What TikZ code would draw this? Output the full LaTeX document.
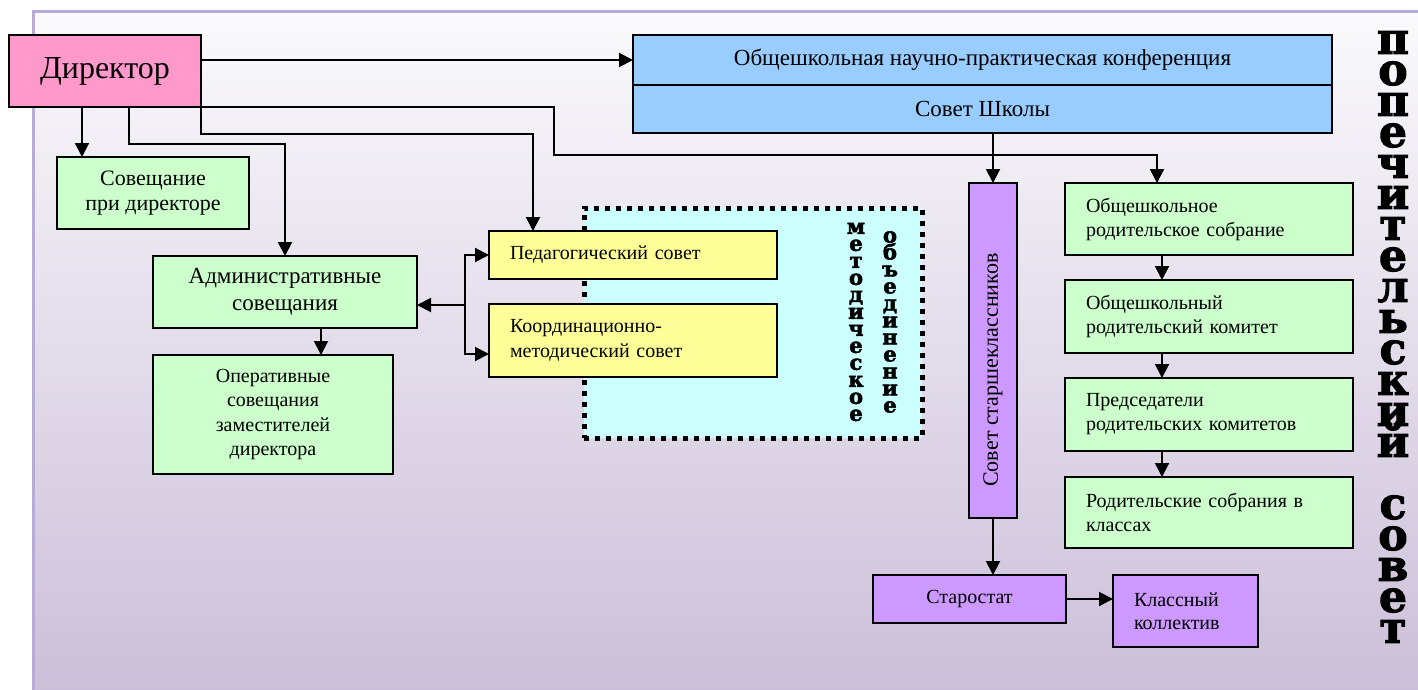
\documentclass[tikz,border=0pt]{standalone}
\usepackage{fontspec}
\usepackage{xcolor}
\usepackage{tikz}
\usetikzlibrary{arrows.meta}
\setmainfont{Liberation Serif}
\newfontfamily\heavyserif{DejaVu Serif}[BoldFeatures={FakeBold=2.5}]
\newcommand\tightlines{\lineskiplimit=-100pt\relax}

\definecolor{pinkbox}{HTML}{FF99CC}
\definecolor{greenbox}{HTML}{CCFFCC}
\definecolor{bluebox}{HTML}{99CCFF}
\definecolor{yellowbox}{HTML}{FFFF99}
\definecolor{cyanbox}{HTML}{CCFFFF}
\definecolor{violetbox}{HTML}{CC99FF}
\definecolor{paneltop}{HTML}{FAFAFC}
\definecolor{panelbottom}{HTML}{CCBFD9}
\definecolor{panelline}{HTML}{B8ABD5}

\tikzset{
  box/.style={draw, line width=2pt, inner sep=0pt, outer sep=0pt, anchor=north west, align=center},
  leftbox/.style={box, align=left, inner xsep=21pt},
  arr/.style={line width=2pt, -{Triangle[length=14pt,width=14pt]}},
  letters/.style={inner sep=0pt, align=center}
}

\begin{document}
\begin{tikzpicture}[x=1pt, y=-1pt]
       \useasboundingbox (0,0) rectangle (1418,690);
       \fill[white] (0,0) rectangle (1418,690);
       \shade[top color=paneltop, bottom color=panelbottom] (33,12) rectangle (1418,690);
       \draw[panelline, line width=3pt] (33,690) -- (33,12) -- (1418,12);

       \node[box, fill=cyanbox, line width=5pt, dash pattern=on 5pt off 6pt, minimum width=338pt, minimum height=230pt] (methods) at (584,208) {};

       \node[box, fill=pinkbox, minimum width=192pt, minimum height=72pt, font=\fontsize{32}{38}\selectfont] (dir) at (9,35) {Директор};
       \node[box, fill=bluebox, minimum width=699pt, minimum height=50pt, font=\fontsize{23}{27}\selectfont] (conf) at (633,35) {Общешкольная научно-практическая конференция};
       \node[box, fill=bluebox, minimum width=699pt, minimum height=48pt, font=\fontsize{23}{27}\selectfont] (council) at (633,85) {Совет Школы};
       \node[box, fill=greenbox, minimum width=192pt, minimum height=72pt, font=\fontsize{22}{25}\selectfont] (meet) at (57,157) {Совещание\\при директоре};
       \node[box, fill=greenbox, minimum width=264pt, minimum height=72pt, font=\fontsize{23}{27}\selectfont] (admin) at (153,256) {Административные\\совещания};
       \node[box, fill=greenbox, minimum width=240pt, minimum height=119pt, font=\fontsize{20}{24.5}\selectfont] (oper) at (153,355) {Оперативные\\совещания\\заместителей\\директора};

       \node[leftbox, fill=yellowbox, text width=246pt, minimum height=48pt, font=\fontsize{20}{25}\selectfont] (pedsov) at (489,231) {Педагогический совет};
       \node[leftbox, fill=yellowbox, text width=246pt, minimum height=73pt, font=\fontsize{20}{25}\selectfont] (coordsov) at (489,304) {Координационно-\\методический совет};
       \node[letters, font={\heavyserif\bfseries\fontsize{21}{17}\selectfont\tightlines}] (methodical) at (856,322) {м\\е\\т\\о\\д\\и\\ч\\е\\с\\к\\о\\е};
       \node[letters, font={\heavyserif\bfseries\fontsize{21}{17}\selectfont\tightlines}] (union) at (890,322) {о\\б\\ъ\\е\\д\\и\\н\\е\\н\\и\\е};

       \node[box, anchor=center, rotate=90, fill=violetbox, minimum width=335pt, minimum height=48pt, font=\fontsize{22}{26}\selectfont] (senior) at (993,350.5) {Совет старшеклассников\hspace*{39pt}};
       \node[box, fill=violetbox, minimum width=193pt, minimum height=48pt, font=\fontsize{20}{23}\selectfont] (elders) at (873,575) {Старостат};
       \node[leftbox, fill=violetbox, text width=103pt, minimum height=72pt, font=\fontsize{20}{23}\selectfont] (classgroup) at (1113,575) {Классный\\коллектив};

       \node[leftbox, fill=greenbox, text width=246pt, minimum height=72pt, font=\fontsize{20}{24}\selectfont] (parmeet) at (1065,183) {Общешкольное\\родительское собрание};
       \node[leftbox, fill=greenbox, text width=246pt, minimum height=73pt, font=\fontsize{20}{24}\selectfont] (parcomm) at (1065,280) {Общешкольный\\родительский комитет};
       \node[leftbox, fill=greenbox, text width=246pt, minimum height=73pt, font=\fontsize{20}{24}\selectfont] (chairs) at (1065,378) {Председатели\\родительских комитетов};
       \node[leftbox, fill=greenbox, text width=246pt, minimum height=71pt, font=\fontsize{20}{24}\selectfont] (classmeet) at (1065,477) {Родительские собрания в\\классах};

       \node[letters, font={\heavyserif\bfseries\fontsize{44}{31}\selectfont\tightlines}] (trustees) at (1393,337) {п\\о\\п\\е\\ч\\и\\т\\е\\л\\ь\\с\\к\\и\\й\\ \\с\\о\\в\\е\\т};

       \draw[arr] (dir.east |- conf.west) -- (conf.west);
       \draw[arr] ([xshift=73pt]dir.south west) -- ([xshift=25pt]meet.north west);
       \draw[arr] ([xshift=120pt]dir.south west) -- ++(0,37) -| (admin.north);
       \draw[arr] (dir.south east) -- ++(0,27) -| ([xshift=44pt]pedsov.north west);
       \draw[arr] (dir.south east) -- ++(353,0) -- ++(0,48) -| ([xshift=92pt]parmeet.north west);
       \draw[arr] (council.south -| senior.east) -- (senior.east);
       \draw[arr] (senior.west) -- (senior.west |- elders.north);
       \draw[arr] (elders.east) -- (elders.east -| classgroup.west);
       \foreach \a/\b in {parmeet/parcomm, parcomm/chairs, chairs/classmeet}
              \draw[arr] ([xshift=97pt]\a.south west) -- ([xshift=97pt]\b.north west);
       \draw[arr] ([xshift=168pt]admin.south west) -- ([xshift=168pt]oper.north west);

       \coordinate (fork) at (465,305);
       \draw[arr] (fork) -- (fork -| admin.east);
       \draw[arr] (fork) |- (pedsov.west);
       \draw[arr] (fork) |- ([yshift=-13.5pt]coordsov.west);
\end{tikzpicture}
\end{document}
